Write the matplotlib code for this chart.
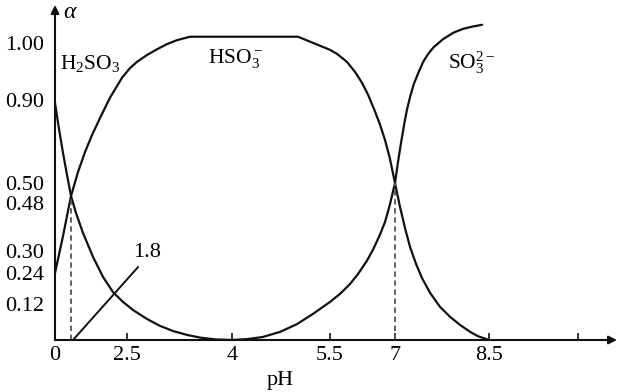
import numpy as np
import matplotlib
matplotlib.use("Agg")
import matplotlib.pyplot as plt
from matplotlib.scale import FuncScale

# ---------------- data ----------------
ph_ticks = [0, 2.5, 4, 5.5, 7, 8.5, 10]
ph_tick_labels = ["0", "2.5", "4", "5.5", "7", "8.5", ""]
alpha_ticks = [0.12, 0.24, 0.30, 0.48, 0.50, 0.90, 1.00]
alpha_tick_labels = ["0.12", "0.24", "0.30", "0.48", "0.50", "0.90", "1.00"]

pka_values = [1.8, 7.0]
pka_alpha = [0.487, 0.50]

h2so3_ph = [0.0, 0.45, 0.9, 1.35, 1.8, 1.8625, 1.95, 2.075, 2.2, 2.325, 2.45, 2.586,
            2.786, 2.971, 3.157, 3.357, 3.543, 3.757, 4.0]
h2so3_alpha = [0.886, 0.76, 0.645, 0.539, 0.487, 0.4425, 0.3675, 0.284, 0.225, 0.166, 0.128,
               0.10, 0.07, 0.047, 0.03, 0.017, 0.008, 0.002, 0.0]

hso3_ph = [0.0, 0.9, 1.8, 1.8875, 1.975, 2.0625, 2.1625, 2.2875, 2.4375, 2.543,
           2.643, 2.786, 2.929, 3.071, 3.214, 3.4, 5.01, 5.5, 5.66, 5.89,
           6.08, 6.24, 6.38, 6.515, 6.65, 6.77, 6.88, 7.0, 7.08, 7.16,
           7.24, 7.335, 7.43, 7.56, 7.72, 7.88, 8.04, 8.2, 8.32, 8.5]
hso3_alpha = [0.24, 0.356, 0.487, 0.553, 0.649, 0.731, 0.813, 0.904, 0.939, 0.956,
              0.967, 0.979, 0.989, 0.998, 1.005, 1.011, 1.011, 0.988, 0.981, 0.967,
              0.949, 0.93, 0.909, 0.857, 0.784, 0.707, 0.62, 0.50, 0.465, 0.386,
              0.315, 0.265, 0.221, 0.163, 0.11, 0.077, 0.05, 0.027, 0.013, 0.0]

so3_ph = [4.0, 4.23, 4.47, 4.735, 4.995, 5.24, 5.5, 5.73, 5.96, 6.146, 6.35, 6.49, 6.65,
          6.77, 6.88, 7.0, 7.048, 7.096, 7.144, 7.19, 7.24, 7.30, 7.37, 7.45, 7.53,
          7.62, 7.77, 7.93, 8.09, 8.245, 8.39]
so3_alpha = [0.0, 0.003, 0.01, 0.027, 0.053, 0.087, 0.128, 0.159, 0.197, 0.236, 0.273, 0.304,
             0.36, 0.409, 0.4725, 0.50, 0.601, 0.693, 0.779, 0.852, 0.905, 0.928, 0.947,
             0.967, 0.981, 0.993, 1.007, 1.018, 1.025, 1.029, 1.032]

leader_ph = [1.825, 2.657]
leader_alpha = [0.0, 0.256]
leader_label = "1.8"

# ---------------- layout (schematic, non-uniform axes) ----------------
W, H = 621, 392
x_anchor_val = [0, 1.8, 2.5, 4, 5.5, 7, 8.5, 10]
x_anchor_px = [0, 16, 72, 177, 275, 340, 434, 523]
y_anchor_val = [0, 0.12, 0.24, 0.30, 0.48, 0.50, 0.90, 1.00]
y_anchor_px = [0, 36, 67, 89, 137, 157, 240, 297]


def pwl(xs, ys):
    xs = np.asarray(xs, float)
    ys = np.asarray(ys, float)
    s0 = (ys[1] - ys[0]) / (xs[1] - xs[0])
    s1 = (ys[-1] - ys[-2]) / (xs[-1] - xs[-2])

    def f(v):
        v = np.asarray(v, float)
        out = np.interp(v, xs, ys)
        out = np.where(v < xs[0], ys[0] + (v - xs[0]) * s0, out)
        out = np.where(v > xs[-1], ys[-1] + (v - xs[-1]) * s1, out)
        return out
    return f


xf, xi = pwl(x_anchor_val, x_anchor_px), pwl(x_anchor_px, x_anchor_val)
yf, yi = pwl(y_anchor_val, y_anchor_px), pwl(y_anchor_px, y_anchor_val)

plt.rcParams["font.family"] = ["Liberation Serif", "DejaVu Serif"]
plt.rcParams["mathtext.fontset"] = "custom"
plt.rcParams["mathtext.rm"] = "Liberation Serif"
plt.rcParams["mathtext.it"] = "Liberation Serif:italic"

fig = plt.figure(figsize=(W / 100, H / 100), dpi=100)
left_px, axis_y_px, right_px, top_px = 55, 340, 617, 5
ax = fig.add_axes([left_px / W, (H - axis_y_px) / H,
                   (right_px - left_px) / W, (axis_y_px - top_px) / H])
ax.set_xscale(FuncScale(ax, (xf, xi)))
ax.set_yscale(FuncScale(ax, (yf, yi)))
ax.set_xlim(0, float(xi(right_px - left_px)))
ax.set_ylim(0, float(yi(axis_y_px - top_px)))

for s in ax.spines.values():
    s.set_visible(False)

ink = "#111111"
lw = 1.6
for xs, ys in [(h2so3_ph, h2so3_alpha), (hso3_ph, hso3_alpha), (so3_ph, so3_alpha)]:
    ax.plot(xs, ys, color=ink, lw=lw, solid_capstyle="round", solid_joinstyle="round")

for p, a in zip(pka_values, pka_alpha):
    ax.plot([p, p], [0, a], color="#555555", lw=1.3, linestyle=(0, (3, 2)))

ax.plot(leader_ph, leader_alpha, color=ink, lw=1.4)
ax.text(2.79, 0.295, leader_label, fontsize=16, ha="center", va="center")

# axes with arrows
arrow_kw = dict(arrowstyle="-|>", lw=1.5, color=ink, mutation_scale=12,
                shrinkA=0, shrinkB=0)
ax.annotate("", xy=(1, 0), xytext=(0, 0), xycoords="axes fraction",
            textcoords="axes fraction", arrowprops=arrow_kw)
ax.annotate("", xy=(0, 1), xytext=(0, 0), xycoords="axes fraction",
            textcoords="axes fraction", arrowprops=arrow_kw)

ax.set_xticks(ph_ticks)
ax.set_xticklabels(ph_tick_labels)
ax.set_yticks(alpha_ticks)
ax.set_yticklabels(alpha_tick_labels)
ax.tick_params(axis="x", direction="in", length=5, width=1.2, color=ink,
               labelsize=16, pad=4)
ax.tick_params(axis="y", length=0, labelsize=16, pad=8)
ax.minorticks_off()

# labels
fig.text(69 / W, 1 - 13 / H, "α", fontsize=17, style="italic", ha="center", va="center")
fig.text(280 / W, 1 - 380 / H, "pH", fontsize=16, ha="center", va="center")
fig.text(60 / W, 1 - 64 / H, r"H$_2$SO$_3$", fontsize=15.5, ha="left", va="center")
fig.text(208 / W, 1 - 59 / H, r"HSO$_3^-$", fontsize=15.5, ha="left", va="center")
fig.text(448 / W, 1 - 63 / H, r"SO$_3^{2-}$", fontsize=15.5, ha="left", va="center")

fig.savefig("out.png", dpi=100)
